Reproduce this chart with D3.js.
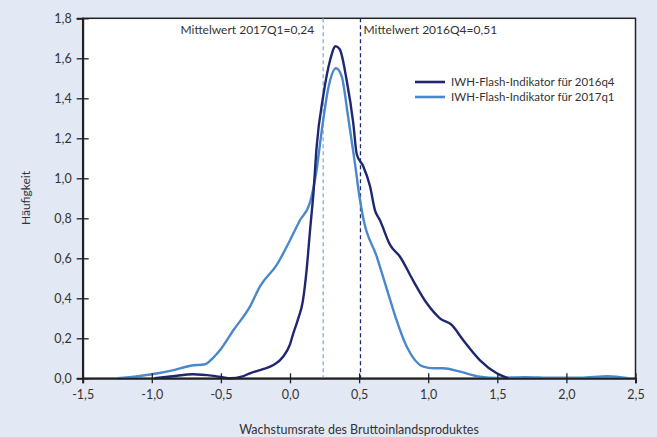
<!DOCTYPE html>
<html><head><meta charset="utf-8">
<script src="https://cdn.jsdelivr.net/npm/d3@7"></script>
<style>
html,body{margin:0;padding:0;background:#e2e9f4;}
svg{display:block;}
text{font-family:Lato,"Open Sans",sans-serif;fill:#333;}
</style></head><body>
<svg id="c" width="657" height="437"></svg>
<script>
// ---- data ----
const xTicks = [-1.5,-1.0,-0.5,0.0,0.5,1.0,1.5,2.0,2.5];
const yTicks = [0,0.2,0.4,0.6,0.8,1.0,1.2,1.4,1.6,1.8];
const seriesNames = ["IWH-Flash-Indikator für 2016q4","IWH-Flash-Indikator für 2017q1"];
const q4x = [-0.98,-0.85,-0.70,-0.55,-0.43,-0.35,-0.29,-0.20,-0.12,-0.05,0.0,0.024,0.06,0.092,0.12,0.145,0.17,0.193,0.24,0.29,0.33,0.36,0.41,0.458,0.483,0.53,0.579,0.615,0.651,0.724,0.796,0.89,0.99,1.085,1.17,1.254,1.375,1.496,1.58];
const q4y = [0,0.01,0.02,0.012,0.0,0.008,0.025,0.045,0.066,0.108,0.17,0.225,0.30,0.383,0.54,0.74,0.93,1.16,1.41,1.59,1.66,1.645,1.49,1.275,1.12,1.06,0.96,0.84,0.79,0.667,0.608,0.49,0.375,0.30,0.267,0.19,0.09,0.025,0.0];
const q1x = [-1.25,-1.1,-1.0,-0.85,-0.72,-0.615,-0.56,-0.507,-0.41,-0.29,-0.217,-0.096,0.0,0.072,0.145,0.19,0.23,0.277,0.333,0.374,0.42,0.47,0.50,0.53,0.627,0.71,0.748,0.845,0.965,1.04,1.11,1.23,1.375,1.5,1.7,1.9,2.1,2.3,2.45];
const q1y = [0,0.01,0.02,0.04,0.063,0.07,0.1,0.14,0.24,0.358,0.46,0.567,0.69,0.79,0.88,1.03,1.24,1.45,1.55,1.51,1.31,1.075,0.92,0.80,0.61,0.425,0.34,0.158,0.058,0.05,0.05,0.033,0.008,0.002,0.006,0.003,0.003,0.01,0.0];
const meanValues = [0.51,0.24];
const meanLabels = ["Mittelwert 2016Q4=0,51","Mittelwert 2017Q1=0,24"];
const colors = ["#1f2770","#4a88cc"];
const meanColors = ["#1f2770","#7fb0e0"];

// ---- layout ----
const svg = d3.select("#c");
const L=82.7, R=635.5, T=18.3, B=378.3;
const x = d3.scaleLinear().domain([-1.5,2.5]).range([L,R]);
const y = d3.scaleLinear().domain([0,1.8]).range([B,T]);
const fmt = d => d.toFixed(1).replace(".",",");

svg.append("rect").attr("x",L).attr("y",T).attr("width",R-L).attr("height",B-T)
  .attr("fill","#fff").attr("stroke","#222").attr("stroke-width",1.5);

// mean lines
meanValues.forEach((m,i)=>{
  svg.append("line").attr("x1",x(m)).attr("x2",x(m)).attr("y1",T).attr("y2",B)
    .attr("stroke",meanColors[i]).attr("stroke-width",1.3).attr("stroke-dasharray","4,3");
});
svg.append("text").attr("x",x(meanValues[0])+3).attr("y",34).attr("font-size",12).text(meanLabels[0]);
svg.append("text").attr("x",x(meanValues[1])-9).attr("y",34).attr("font-size",12).attr("text-anchor","end").text(meanLabels[1]);

// curves
const line = d3.line().x(d=>x(d[0])).y(d=>y(d[1])).curve(d3.curveMonotoneX);
const sets = [d3.zip(q4x,q4y), d3.zip(q1x,q1y)];
[1,0].forEach(i=>{
  svg.append("path").datum(sets[i]).attr("d",line).attr("fill","none")
    .attr("stroke",colors[i]).attr("stroke-width",2.4).attr("stroke-linejoin","round");
});

// axes
const yAxis = svg.append("g").attr("transform",`translate(${L},0)`)
  .call(d3.axisLeft(y).tickValues(yTicks).tickFormat(fmt).tickSize(6).tickPadding(5));
const xAxis = svg.append("g").attr("transform",`translate(0,${B})`)
  .call(d3.axisBottom(x).tickValues(xTicks).tickFormat(fmt).tickSize(5).tickPadding(7));
[yAxis,xAxis].forEach(g=>{
  g.select(".domain").attr("stroke","#222").attr("stroke-width",2);
  g.selectAll(".tick line").attr("stroke","#222").attr("stroke-width",1.3);
  g.selectAll(".tick text").attr("font-size",12.5).attr("fill","#333").attr("font-family","Lato, sans-serif");
});
// ticks crossing axes
yAxis.selectAll(".tick").append("line").attr("x1",0).attr("x2",6).attr("stroke","#222").attr("stroke-width",1.3);
xAxis.selectAll(".tick").append("line").attr("y1",0).attr("y2",-5).attr("stroke","#222").attr("stroke-width",1.3);

// axis titles
svg.append("text").attr("transform","translate(30,198) rotate(-90)").attr("text-anchor","middle")
  .attr("font-size",12).text("Häufigkeit");
svg.append("text").attr("x",359).attr("y",434).attr("text-anchor","middle")
  .attr("font-size",12.5).text("Wachstumsrate des Bruttoinlandsproduktes");

// legend
seriesNames.forEach((n,i)=>{
  const ly = 82 + i*15;
  svg.append("line").attr("x1",415).attr("x2",445).attr("y1",ly).attr("y2",ly)
    .attr("stroke",colors[i]).attr("stroke-width",2.6);
  svg.append("text").attr("x",451).attr("y",ly+4).attr("font-size",11.5).text(n);
});
</script>
</body></html>
